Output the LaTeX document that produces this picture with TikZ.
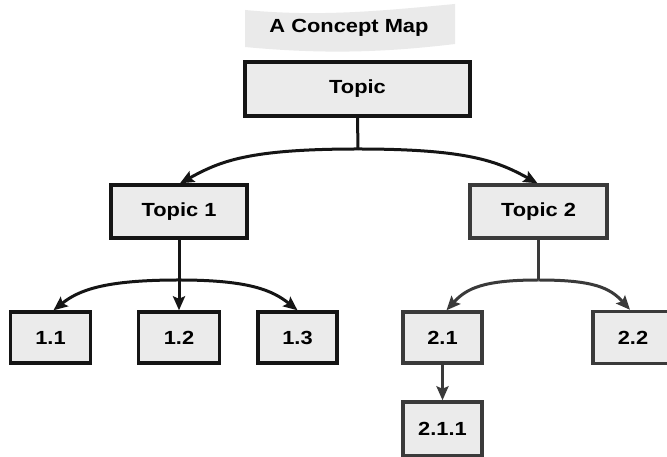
\documentclass[tikz,border=0pt]{standalone}
\usepackage{fontspec}
\setmainfont[FakeStretch=1.15]{Liberation Sans}
\usetikzlibrary{arrows.meta}
\definecolor{boxfill}{HTML}{EBEBEB}
\definecolor{boxline}{HTML}{151515}
\definecolor{boxlinetwo}{HTML}{3A3A3A}
\definecolor{bannerfill}{HTML}{EAEAEA}
\tikzset{
  box/.style={draw=boxline, line width=3.4pt, fill=boxfill, inner sep=0pt,
    font=\fontsize{19}{22}\selectfont\bfseries, text=black},
  conn/.style={draw=boxline, line width=3pt},
  arr/.style={conn, -{Stealth[length=14pt,width=12pt,inset=2.5pt]}},
  grey/.style={draw=boxlinetwo},
}
\begin{document}
\begin{tikzpicture}[x=1pt,y=1pt]
\clip (0,0) rectangle (667,457);
\fill[white] (0,0) rectangle (667,457);
% banner
\fill[bannerfill] (245,447) .. controls (320,440) and (380,446) .. (455,453)
  -- (455,413) .. controls (380,404) and (320,403) .. (245,410) -- cycle;
\node[font=\fontsize{19}{22}\selectfont\bfseries] (title) at (349,429) {A Concept Map};
% nodes
\node[box, minimum width=225pt, minimum height=54pt] (top) at (357.5,368) {Topic};
\node[box, minimum width=136pt, minimum height=53pt] (t1) at (179,245.5) {Topic 1};
\node[box, grey, minimum width=137pt, minimum height=53pt] (t2) at (538.5,245.5) {Topic 2};
\node[box, minimum width=80pt, minimum height=51pt] (b11) at (50.5,119.5) {1.1};
\node[box, minimum width=81pt, minimum height=51pt] (b12) at (179,119.5) {1.2};
\node[box, minimum width=79pt, minimum height=51pt] (b13) at (297.5,119.5) {1.3};
\node[box, grey, minimum width=79pt, minimum height=51pt] (b21) at (442.5,119.5) {2.1};
\node[box, grey, minimum width=80pt, minimum height=52pt] (b22) at (633,119.5) {2.2};
\node[box, grey, minimum width=79pt, minimum height=54pt] (b211) at (442.5,28) {2.1.1};
% junctions
\coordinate (j0) at (358,308);
\coordinate (j1) at (179,177);
\coordinate (j2) at (538.5,177);
% connectors
\draw[conn] (top.south) -- (j0);
\draw[arr] (j0) .. controls +(-110,0) and +(40,22) .. ([xshift=1pt]t1.north);
\draw[arr] (j0) .. controls +(110,0) and +(-40,22) .. ([xshift=-1pt]t2.north);
\draw[arr] (t1.south) -- (b12.north);
\draw[arr] (j1) .. controls +(-75,0) and +(25,20) .. ([xshift=3pt]b11.north);
\draw[arr] (j1) .. controls +(70,0) and +(-25,20) .. (b13.north);
\draw[conn, grey] (t2.south) -- (j2);
\draw[arr, grey] (j2) .. controls +(-55,0) and +(20,22) .. ([xshift=4pt]b21.north);
\draw[arr, grey] (j2) .. controls +(55,0) and +(-20,22) .. ([xshift=-3pt]b22.north);
\draw[arr, grey] (b21.south) -- (b211.north);
\end{tikzpicture}
\end{document}
